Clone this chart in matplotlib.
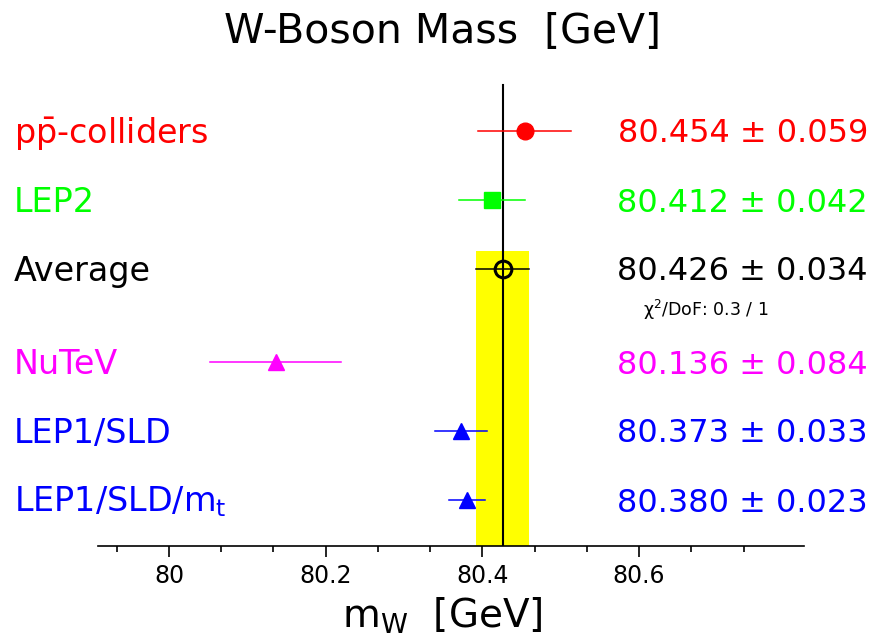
"""W-boson mass summary plot (ROOT style), recreated in matplotlib."""
import matplotlib
matplotlib.use("Agg")
import matplotlib.pyplot as plt
import matplotlib.transforms as mtransforms
import numpy as np

W, H = 878, 641

labels = [r"p$\bar{\mathrm{p}}$-colliders", "LEP2", "Average", "NuTeV",
          "LEP1/SLD", r"LEP1/SLD/m$_\mathrm{t}$"]
values = [80.454, 80.412, 80.426, 80.136, 80.373, 80.380]
errors = [0.059, 0.042, 0.034, 0.084, 0.033, 0.023]
colors = ["#ff0000", "#00ff00", "#000000", "#ff00ff", "#0000ff", "#0000ff"]
markers = ["o", "s", "o", "^", "^", "^"]
chi2_text = "\u03c7$^2$/DoF: 0.3 / 1"
avg_idx = 2

# layout (pixel rows, measured from top of image)
rows = [131, 200, 269, 362, 431, 500]
x_axis_px = (98, 804)
y_axis_px = 545.7
xlim = (79.9094, 80.8105)


def main():
    plt.rcParams["font.family"] = ["DejaVu Sans"]
    plt.rcParams["mathtext.fontset"] = "dejavusans"

    fig = plt.figure(figsize=(W / 100, H / 100), dpi=100)
    ax = fig.add_axes([x_axis_px[0] / W, (H - y_axis_px) / H,
                       (x_axis_px[1] - x_axis_px[0]) / W, y_axis_px / H])
    ax.set_xlim(*xlim)
    ax.set_ylim(y_axis_px, 0)
    for s in ["top", "left", "right"]:
        ax.spines[s].set_visible(False)
    ax.spines["bottom"].set_linewidth(1.2)
    ax.set_yticks([])
    ax.set_xticks([80, 80.2, 80.4, 80.6])
    ax.set_xticklabels(["80", "80.2", "80.4", "80.6"])
    minor = [t for t in np.arange(79.8, 80.9, 0.2 / 3)
             if xlim[0] < t < xlim[1] and abs((t - 80) / 0.2 - round((t - 80) / 0.2)) > 0.01]
    ax.set_xticks(minor, minor=True)
    ax.tick_params(axis="x", which="major", direction="out", length=8, width=1.2,
                   labelsize=17, pad=5.5)
    ax.tick_params(axis="x", which="minor", direction="out", length=4.3, width=1.2)
    ax.patch.set_visible(False)

    avg, aerr = values[avg_idx], errors[avg_idx]
    ax.fill_betweenx([rows[avg_idx] - 18.5, y_axis_px], avg - aerr, avg + aerr,
                     color="#ffff00", lw=0, zorder=1)
    ax.plot([avg, avg], [85, y_axis_px], color="black", lw=1.5, zorder=2)

    for i, (v, e, c, m) in enumerate(zip(values, errors, colors, markers)):
        ax.plot([v - e, v + e], [rows[i], rows[i]], color=c, lw=1.1, zorder=3)
        if i == avg_idx:
            ax.plot(v, rows[i], marker=m, ms=12, mfc="none", mec=c, mew=2.2, zorder=4)
        else:
            ms = 11.5 if m == "^" else 12
            ax.plot(v, rows[i], marker=m, ms=ms, color=c, mec=c, zorder=4)

    tr = mtransforms.blended_transform_factory(fig.transFigure, ax.transData)
    for i, (lab, v, e, c) in enumerate(zip(labels, values, errors, colors)):
        ax.text(14 / W, rows[i] + 11.5, lab, transform=tr, color=c, fontsize=24,
                ha="left", va="baseline", clip_on=False)
        ax.text(868 / W, rows[i] + 11.5, f"{v:.3f} \u00b1 {e:.3f}", transform=tr,
                color=c, fontsize=23, ha="right", va="baseline", clip_on=False)
    ax.text(643 / W, 316, chi2_text, transform=tr, fontsize=12.5, color="black",
            ha="left", va="baseline", clip_on=False)

    fig.text(442 / W, 1 - 43 / H, "W-Boson Mass  [GeV]", fontsize=29.5,
             ha="center", va="baseline")
    fig.text(442 / W, 1 - 628 / H, r"m$_\mathrm{W}$  [GeV]", fontsize=28,
             ha="center", va="baseline")

    fig.savefig("out.png", dpi=100)


if __name__ == "__main__":
    main()
